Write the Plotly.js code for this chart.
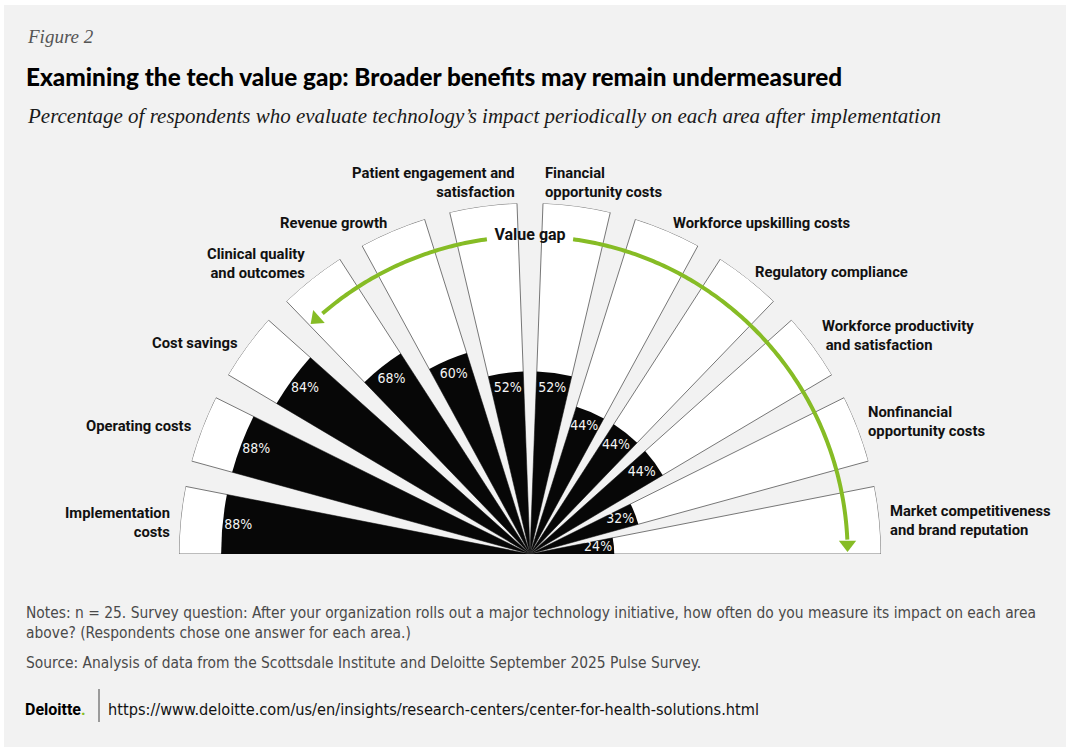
<!DOCTYPE html>
<html>
<head>
<meta charset="utf-8">
<script src="https://cdn.plot.ly/plotly-3.0.1.min.js"></script>
<style>
  html, body { margin: 0; padding: 0; background: #f2f2f2; overflow: hidden; }
  #chart { width: 1066px; height: 747px; }
</style>
</head>
<body>
<div id="chart"></div>
<script>
// ---------------- DATA ----------------
const categories = [
  'Implementation costs', 'Operating costs', 'Cost savings',
  'Clinical quality and outcomes', 'Revenue growth',
  'Patient engagement and satisfaction', 'Financial opportunity costs',
  'Workforce upskilling costs', 'Regulatory compliance',
  'Workforce productivity and satisfaction', 'Nonfinancial opportunity costs',
  'Market competitiveness and brand reputation'
];
const categoryLabels = [
  'Implementation<br>costs', 'Operating costs', 'Cost savings',
  'Clinical quality<br>and outcomes', 'Revenue growth',
  'Patient engagement and<br>satisfaction', 'Financial<br>opportunity costs',
  'Workforce upskilling costs', 'Regulatory compliance',
  'Workforce productivity<br> and satisfaction', 'Nonfinancial<br>opportunity costs',
  'Market competitiveness<br>and brand reputation'
];
const values = [88, 88, 84, 68, 60, 52, 52, 44, 44, 44, 32, 24];
const fullScale = 100;
const valueLabels = values.map(v => v + '%');

const titleText = 'Examining the tech value gap: Broader benefits may remain undermeasured';
const subtitleText = 'Percentage of respondents who evaluate technology\u2019s impact periodically on each area after implementation';
const figureText = 'Figure 2';
const notesText = 'Notes: n = 25. Survey question: After your organization rolls out a major technology initiative, how often do you measure its impact on each area<br>above? (Respondents chose one answer for each area.)';
const sourceText = 'Source: Analysis of data from the Scottsdale Institute and Deloitte September 2025 Pulse Survey.';
const urlText = 'https://www.deloitte.com/us/en/insights/research-centers/center-for-health-solutions.html';
const gapLabel = 'Value gap';

// ---------------- GEOMETRY (layout only) ----------------
const W = 1066, H = 747;
const cx = 530, cy = 554, R = 351;
const n = categories.length;
const gapDeg = 4.25;
const barDeg = (180 - (n - 1) * gapDeg) / n;
const thetas = categories.map((c, i) => 180 - barDeg / 2 - i * (barDeg + gapDeg));

// category label placement (annotation anchors derived from the polar geometry)
const labelR = [102.5, 102.5, 102.5, 102.5, 102.5, 100, 100, 102.5, 102.5, 102.5, 102.5, 102.5];
const labelDY = [3, 0, 2, -8, 0, 0, 0, 0, 0, -6, -4, 1];
const labelAnchorY = ['middle', 'middle', 'middle', 'middle', 'middle', 'bottom',
                      'bottom', 'middle', 'middle', 'middle', 'middle', 'middle'];
const labelTheta = thetas.map((t, i) => {
  if (i === 5) return t - barDeg / 2;
  if (i === 6) return t + barDeg / 2;
  return t;
});

const pctR = values.map(v => v - 4.5);

// value-gap arc (decoration)
const arcR = 90.5;
function arcPts(a0, a1, step) {
  const th = [], rr = [];
  const k = Math.max(2, Math.round(Math.abs(a1 - a0) / step) + 1);
  for (let j = 0; j < k; j++) { th.push(a0 + (a1 - a0) * j / (k - 1)); rr.push(arcR); }
  return {th, rr};
}
const leftArc = arcPts(97.8, 130.8, 0.5);
const rightArc = arcPts(82.2, 2.6, 0.5);

const green = '#86bc25';
const labelFont = 'Roboto, "Liberation Sans", sans-serif';
const narrowFont = '"Liberation Sans Narrow", "DejaVu Sans Condensed", Roboto, sans-serif';

const traces = [
  {
    type: 'barpolar', r: categories.map(() => fullScale), theta: thetas, width: barDeg,
    marker: {color: '#ffffff', line: {color: '#555555', width: 0.8}},
    hoverinfo: 'skip', showlegend: false
  },
  {
    type: 'barpolar', r: values, theta: thetas, width: barDeg,
    marker: {color: '#070707', line: {color: '#070707', width: 0}},
    hoverinfo: 'skip', showlegend: false
  },
  {
    type: 'scatterpolar', mode: 'text', r: pctR, theta: thetas, text: valueLabels,
    textposition: 'middle center',
    textfont: {family: narrowFont, size: 14, color: '#f4f4f4'},
    hoverinfo: 'skip', showlegend: false
  },
  {
    type: 'scatterpolar', mode: 'lines', r: leftArc.rr, theta: leftArc.th,
    line: {color: green, width: 4}, hoverinfo: 'skip', showlegend: false
  },
  {
    type: 'scatterpolar', mode: 'lines', r: rightArc.rr, theta: rightArc.th,
    line: {color: green, width: 4}, hoverinfo: 'skip', showlegend: false
  },
  {
    type: 'scatterpolar', mode: 'markers', r: [arcR, arcR], theta: [132.3, 1.7],
    marker: {symbol: 'triangle-down', size: 15, color: green, angle: [48, 0], line: {width: 0}},
    hoverinfo: 'skip', showlegend: false
  },
  {
    type: 'scatterpolar', mode: 'text', r: [arcR], theta: [90], text: [gapLabel],
    textposition: 'middle center',
    textfont: {family: labelFont, size: 16, color: '#111111', weight: 700},
    hoverinfo: 'skip', showlegend: false
  }
];

const catAnnotations = categoryLabels.map((lab, i) => {
  const t = labelTheta[i] * Math.PI / 180;
  const rp = R * labelR[i] / 100;
  const px = cx + rp * Math.cos(t);
  const py = cy - rp * Math.sin(t) + labelDY[i];
  const left = labelTheta[i] > 90;
  return {
    text: lab, xref: 'paper', yref: 'paper', x: px / W, y: 1 - py / H,
    xanchor: left ? 'right' : 'left', yanchor: labelAnchorY[i], align: left ? 'right' : 'left',
    showarrow: false, font: {family: labelFont, size: 14.8, color: '#111111', weight: 700}
  };
});

const layout = {
  width: W, height: H,
  margin: {l: 0, r: 0, t: 0, b: 0},
  paper_bgcolor: '#f2f2f2',
  plot_bgcolor: '#f2f2f2',
  showlegend: false,
  polar: {
    domain: {x: [(cx - R) / W, (cx + R) / W], y: [1 - cy / H, 1 - (cy - R) / H]},
    sector: [0, 180],
    hole: 0,
    bgcolor: 'rgba(0,0,0,0)',
    barmode: 'overlay',
    radialaxis: {visible: false, range: [0, fullScale], showgrid: false},
    angularaxis: {visible: false, direction: 'counterclockwise', rotation: 0, showgrid: false}
  },
  shapes: [
    {type: 'rect', xref: 'paper', yref: 'paper', x0: 0, x1: 1, y0: 1 - 5 / H, y1: 1,
     fillcolor: '#ffffff', line: {width: 0}, layer: 'below'},
    {type: 'rect', xref: 'paper', yref: 'paper', x0: 0, x1: 4 / W, y0: 0, y1: 1,
     fillcolor: '#ffffff', line: {width: 0}, layer: 'below'},
    {type: 'line', xref: 'paper', yref: 'paper', x0: 99 / W, x1: 99 / W, y0: 1 - 689 / H, y1: 1 - 722 / H,
     line: {color: '#444444', width: 1}}
  ],
  annotations: catAnnotations.concat([
    {text: figureText, xref: 'paper', yref: 'paper', x: 25 / W, y: 1 - 37 / H, xanchor: 'left', yanchor: 'middle',
     showarrow: false, font: {family: '"Liberation Serif", "DejaVu Serif", serif', size: 19, color: '#555555', style: 'italic'}},
    {text: titleText, xref: 'paper', yref: 'paper', x: 24 / W, y: 1 - 77 / H, xanchor: 'left', yanchor: 'middle',
     showarrow: false, font: {family: 'Lato, Roboto, "Liberation Sans", sans-serif', size: 24.3, color: '#000000', weight: 900}},
    {text: subtitleText, xref: 'paper', yref: 'paper', x: 25 / W, y: 1 - 116 / H, xanchor: 'left', yanchor: 'middle',
     showarrow: false, font: {family: '"Liberation Serif", "DejaVu Serif", serif', size: 21, color: '#1a1a1a', style: 'italic'}},
    {text: notesText, xref: 'paper', yref: 'paper', x: 24 / W, y: 1 - 623 / H, xanchor: 'left', yanchor: 'middle', align: 'left',
     showarrow: false, font: {family: narrowFont, size: 15.4, color: '#4a4a4a'}},
    {text: sourceText, xref: 'paper', yref: 'paper', x: 24 / W, y: 1 - 663 / H, xanchor: 'left', yanchor: 'middle', align: 'left',
     showarrow: false, font: {family: narrowFont, size: 15.4, color: '#4a4a4a'}},
    {text: '<b>Deloitte</b><span style="color:' + green + '"><b>.</b></span>', xref: 'paper', yref: 'paper', x: 23 / W, y: 1 - 709 / H,
     xanchor: 'left', yanchor: 'middle', showarrow: false,
     font: {family: 'Roboto, "Liberation Sans", sans-serif', size: 16, color: '#000000'}},
    {text: urlText, xref: 'paper', yref: 'paper', x: 106 / W, y: 1 - 709 / H, xanchor: 'left', yanchor: 'middle',
     showarrow: false, font: {family: narrowFont, size: 16.2, color: '#111111'}}
  ])
};

Plotly.newPlot('chart', traces, layout, {displayModeBar: false, staticPlot: true});
</script>
</body>
</html>
